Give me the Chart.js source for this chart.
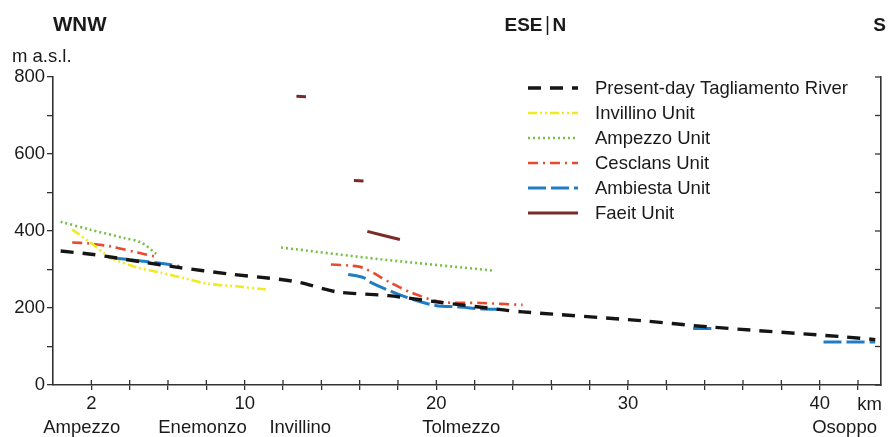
<!DOCTYPE html>
<html>
<head>
<meta charset="utf-8">
<script src="https://cdn.jsdelivr.net/npm/chart.js@4.4.1/dist/chart.umd.min.js"></script>
<style>
  html, body { margin: 0; padding: 0; background: #fff; overflow: hidden; }
  #wrap { width: 893px; height: 437px; position: relative; }
</style>
</head>
<body>
<div id="wrap"><canvas id="profile" width="893" height="437"></canvas></div>
<script>
// km along the profile / elevation in m a.s.l. (null = break between segments)
const riverKm = [0.4, 2.1, 2.8, 4.6, 6.6, 9.1, 11.9, 12.9, 14.8, 17.5, 20.0, 23.5, 24.5, 30.7, 34.2, 41.3, 42.9];
const riverM  = [348, 339, 334, 320, 305, 289, 274, 266, 242, 232, 216, 195, 190, 167, 151, 125, 118];

const invillinoKm = [1.0, 2.0, 3.0, 4.4, 5.6, 6.9, 8.1, 9.8, 11.1];
const invillinoM  = [404, 368, 331, 305, 292, 277, 263, 255, 248];

const ampezzoKm = [0.4, 1.9, 3.7, 4.6, 5.4, 8, 11.9, 17.2, 23.0];
const ampezzoM  = [424, 404, 382, 370, 340, null, 357, 326, 297];

const cesclansKm = [1.0, 1.8, 3.0, 4.4, 5.3, 10, 14.5, 15.5, 16.2, 17.6, 18.7, 20.2, 22.3, 24.5];
const cesclansM  = [370, 368, 360, 344, 334, null, 313, 310, 304, 266, 240, 216, 213, 208];

const ambiestaKm = [2.9, 3.9, 5.8, 6.6, 10, 15.4, 16.2, 16.6, 17.8, 18.8, 20.0, 21.1, 22.3, 23.5, 28, 33.4, 34.5, 37, 40.2, 42.9];
const ambiestaM  = [331, 326, 315, 308, null, 287, 279, 266, 240, 222, 206, 203, 198, 196, null, 147, 147, null, 112, 112];

const faeitKm = [12.7, 13.2, 14, 15.7, 16.2, 16.3, 16.4, 18.1];
const faeitM  = [750, 749, null, 531, 530, null, 399, 378];

const yTicks = [0, 100, 200, 300, 400, 500, 600, 700, 800];
const yLabels = [0, 200, 400, 600, 800];
const xTicks = [2, 4, 6, 8, 10, 12, 14, 16, 18, 20, 22, 24, 26, 28, 30, 32, 34, 36, 38, 40, 42];
const xLabels = [2, 10, 20, 30, 40];
const placeNames = ['Ampezzo', 'Enemonzo', 'Invillino', 'Tolmezzo', 'Osoppo'];
const placeKm = [1.5, 7.8, 12.9, 21.3, 41.3];
const xMax = 43.2;
const yMax = 800;

const FONT = '"Liberation Sans", Arial, Helvetica, sans-serif';
const TEXT_SIZE = 18.5;
const INK = '#1a1a1a';
const AXIS = '#333';

function series(label, km, m, color, dash, width) {
  return {
    label,
    data: km.map((x, i) => ({ x: x, y: m[i] })),
    borderColor: color,
    backgroundColor: color,
    borderDash: dash,
    borderWidth: width,
    pointRadius: 0,
    tension: 0.3,
    spanGaps: false,
    fill: false
  };
}

const datasets = [
  series('Present-day Tagliamento River', riverKm, riverM, '#151515', [13, 9], 3.4),
  series('Invillino Unit', invillinoKm, invillinoM, '#efeb1e', [9, 3, 2, 3, 2, 3], 2.6),
  series('Ampezzo Unit', ampezzoKm, ampezzoM, '#79bf45', [2, 3], 2.6),
  series('Cesclans Unit', cesclansKm, cesclansM, '#e84a2c', [10, 5, 2, 5], 2.6),
  series('Ambiesta Unit', ambiestaKm, ambiestaM, '#1f7ec3', [18, 5], 3),
  series('Faeit Unit', faeitKm, faeitM, '#7a2b27', [], 3)
];

// direction labels, axis titles, place names, inward ticks and the in-plot legend
const decorations = {
  id: 'decorations',
  afterDraw(chart) {
    const ctx = chart.ctx;
    const xs = chart.scales.x;
    const ys = chart.scales.y;
    const area = chart.chartArea;
    ctx.save();
    ctx.fillStyle = INK;
    ctx.strokeStyle = AXIS;

    // x ticks also poke up into the plot
    ctx.lineWidth = 1.3;
    xTicks.forEach(v => {
      const px = xs.getPixelForValue(v);
      ctx.beginPath();
      ctx.moveTo(px, area.bottom);
      ctx.lineTo(px, area.bottom - 5);
      ctx.stroke();
    });
    // right axis: ticks pointing inwards
    yTicks.forEach(v => {
      const py = ys.getPixelForValue(v);
      ctx.beginPath();
      ctx.moveTo(area.right, py);
      ctx.lineTo(area.right - 6, py);
      ctx.stroke();
    });

    // directions on top
    ctx.textBaseline = 'alphabetic';
    ctx.font = 'bold 20.5px ' + FONT;
    ctx.textAlign = 'left';
    ctx.fillText('WNW', area.left, 31);
    ctx.font = 'bold 19px ' + FONT;
    const bendX = xs.getPixelForValue(25.8);
    ctx.textAlign = 'right';
    ctx.fillText('ESE', bendX - 5, 31);
    ctx.textAlign = 'left';
    ctx.fillText('N', bendX + 5, 31);
    ctx.textAlign = 'right';
    ctx.fillText('S', area.right + 5, 31);
    ctx.lineWidth = 1.5;
    ctx.strokeStyle = INK;
    ctx.beginPath();
    ctx.moveTo(bendX, 16);
    ctx.lineTo(bendX, 35);
    ctx.stroke();

    // axis units
    ctx.font = TEXT_SIZE + 'px ' + FONT;
    ctx.textAlign = 'left';
    ctx.fillText('m a.s.l.', 12, 62);
    ctx.textAlign = 'center';
    ctx.fillText('km', xs.getPixelForValue(42.6), 410);

    // place names under the km labels
    placeNames.forEach((name, i) => {
      ctx.fillText(name, xs.getPixelForValue(placeKm[i]), 433);
    });

    // legend inside the plot
    const lx = 528, ly = 88, step = 25, len = 50;
    ctx.textAlign = 'left';
    ctx.textBaseline = 'middle';
    chart.data.datasets.forEach((d, i) => {
      const y = ly + i * step;
      ctx.save();
      ctx.strokeStyle = d.borderColor;
      ctx.lineWidth = d.borderWidth;
      ctx.setLineDash(d.borderDash || []);
      ctx.beginPath();
      ctx.moveTo(lx, y);
      ctx.lineTo(lx + len, y);
      ctx.stroke();
      ctx.restore();
      ctx.fillStyle = INK;
      ctx.fillText(d.label, 595, y + 1);
    });
    ctx.restore();
  }
};

new Chart(document.getElementById('profile'), {
  type: 'line',
  data: { datasets },
  plugins: [decorations],
  options: {
    responsive: false,
    animation: false,
    layout: { padding: { top: 77, left: 0, right: 0, bottom: 0 } },
    plugins: { legend: { display: false }, title: { display: false }, tooltip: { enabled: false } },
    scales: {
      x: {
        type: 'linear',
        min: 0,
        max: xMax,
        afterBuildTicks: s => { s.ticks = xTicks.map(v => ({ value: v })); },
        afterFit: s => { s.height = 52; },
        ticks: {
          autoSkip: false,
          maxRotation: 0,
          padding: 3,
          color: INK,
          font: { family: FONT, size: TEXT_SIZE },
          callback: v => xLabels.includes(v) ? String(v) : ''
        },
        grid: { drawOnChartArea: false, drawTicks: true, tickLength: 5, color: AXIS, lineWidth: 1.3 },
        border: { display: true, color: AXIS, width: 1.6 }
      },
      y: {
        type: 'linear',
        position: 'left',
        min: 0,
        max: yMax,
        afterBuildTicks: s => { s.ticks = yTicks.map(v => ({ value: v })); },
        afterFit: s => { s.width = 53; },
        ticks: {
          autoSkip: false,
          padding: 2,
          color: INK,
          font: { family: FONT, size: TEXT_SIZE },
          callback: v => yLabels.includes(v) ? String(v) : ''
        },
        grid: { drawOnChartArea: false, drawTicks: true, tickLength: 6, color: AXIS, lineWidth: 1.3 },
        border: { display: true, color: AXIS, width: 1.6 }
      },
      y2: {
        type: 'linear',
        position: 'right',
        min: 0,
        max: yMax,
        afterFit: s => { s.width = 12; },
        ticks: { display: false },
        grid: { display: false, drawOnChartArea: false, drawTicks: false },
        border: { display: true, color: AXIS, width: 1.6 }
      }
    }
  }
});
</script>
</body>
</html>
